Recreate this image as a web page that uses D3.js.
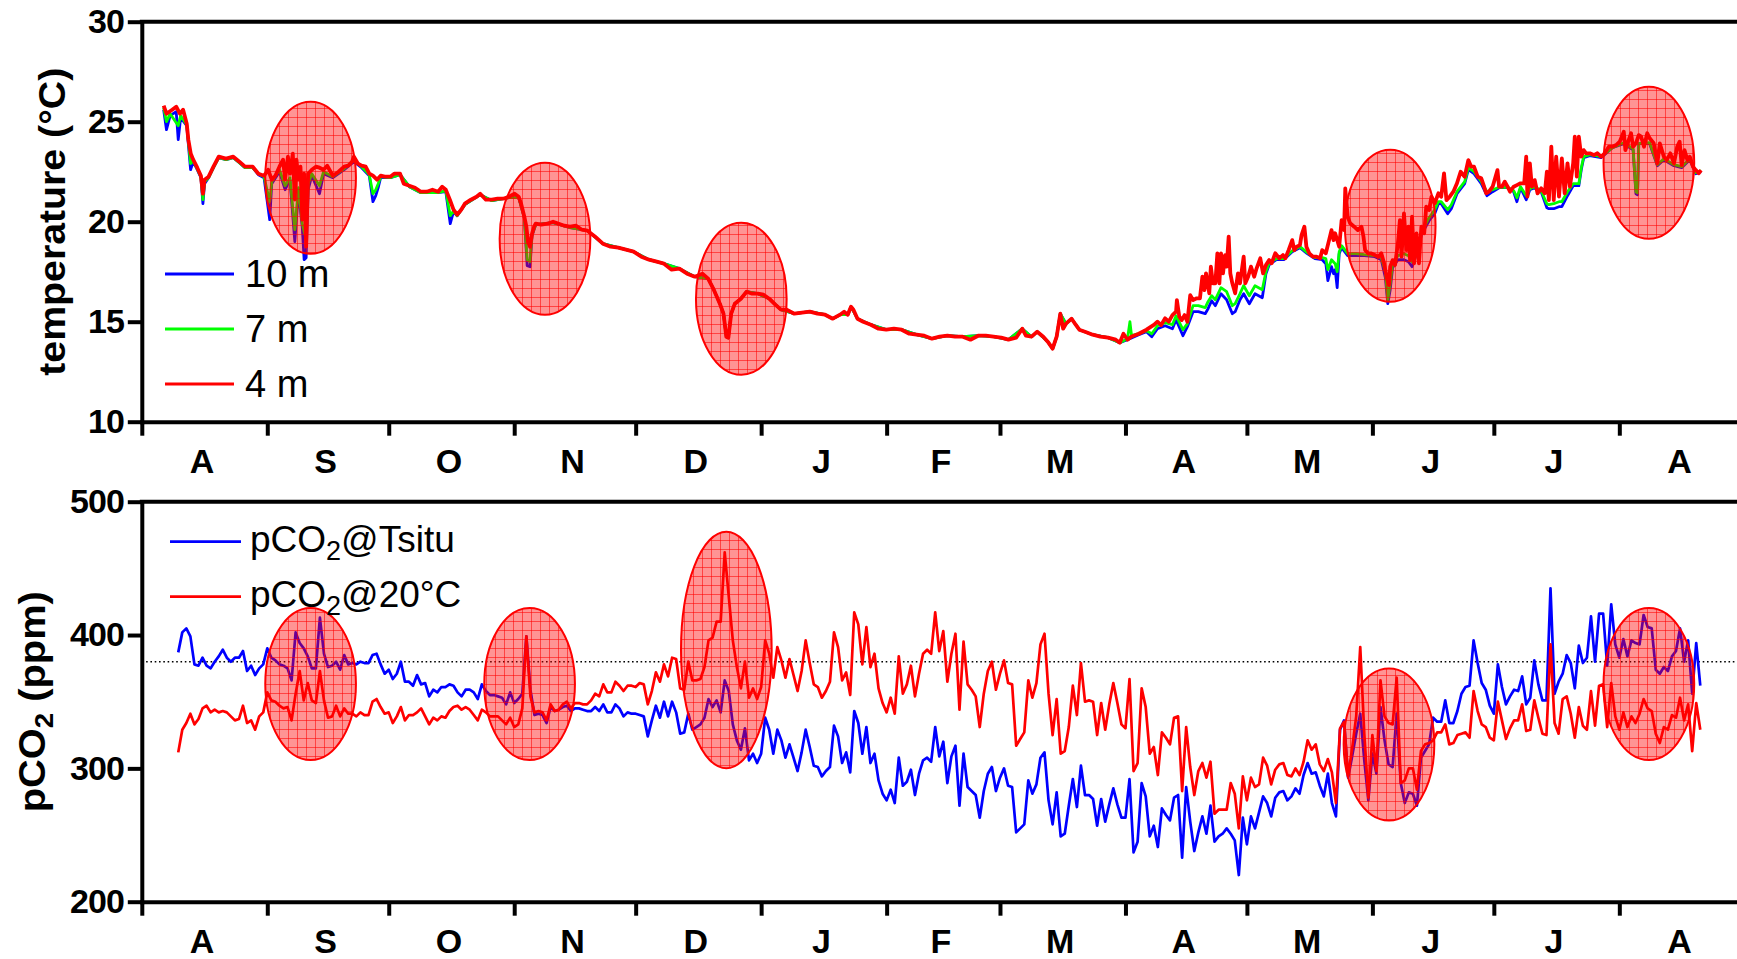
<!DOCTYPE html>
<html>
<head>
<meta charset="utf-8">
<title>Temperature and pCO2 record</title>
<script src="https://cdn.jsdelivr.net/npm/d3@7/dist/d3.min.js"></script>
<style>
  html, body { margin: 0; padding: 0; background: #fff; }
  svg { display: block; }
  text { font-family: "Liberation Sans", Arial, Helvetica, sans-serif; fill: #000; }
</style>
</head>
<body>
<svg id="chart" width="1737" height="959"></svg>
<script>
// ---------------- data ----------------
const monthLabels = ["A", "S", "O", "N", "D", "J", "F", "M", "A", "M", "J", "J", "A"];
const tempTicks = [10, 15, 20, 25, 30];
const pco2Ticks = [200, 300, 400, 500];
const pco2Reference = 380;            // dotted reference level (ppm)
const depthLabels = ["10 m", "7 m", "4 m"];

// Temperature records: [days since 1 Aug 2012, °C]
const temp10m = [
  [5.4,25.6],[6.1,24.6],[7.0,25.3],[8.5,25.5],[9.0,24.1],[9.6,25.2],[11.1,24.8],[12.05,22.6],[12.7,23.0],[13.7,22.6],
  [14.6,22.2],[15.1,20.9],[15.5,21.9],[16.5,22.2],[17.7,22.7],[19.0,23.2],[20.8,23.1],[22.6,23.2],[24.1,22.95],[25.5,22.7],
  [27.4,22.7],[28.8,22.35],[30.2,22.2],[31.6,20.1],[32.1,21.9],[34.0,22.5],[35.4,21.6],[36.6,22.1],[37.8,19.0],[38.7,21.5],
  [39.65,19.7],[40.1,18.1],[40.6,18.2],[41.1,21.6],[42.0,22.3],[43.9,21.4],[44.9,22.4],[47.2,22.2],[50.0,22.6],[52.4,23.0],
  [54.3,22.7],[56.2,22.3],[57.1,21.0],[57.8,21.3],[58.4,21.7],[59.0,22.2],[61.4,22.2],[63.8,22.35],[66.1,21.75],[68.95,21.45],
  [73.2,21.45],[75.1,21.5],[76.2,19.9],[77.0,20.5],[77.9,20.3],[79.8,20.85],[83.6,21.35],[86.5,21.05],[90.7,21.2],[93.1,21.2],
  [94.5,20.2],[95.2,17.8],[95.9,17.75],[96.4,19.3],[97.3,19.85],[101.6,19.95],[105.8,19.7],[110.1,19.55],[113.9,18.9],[117.7,18.7],
  [121.5,18.5],[125.3,18.1],[129.0,17.9],[132.8,17.65],[136.6,17.25],[139.9,17.15],[141.3,16.6],[142.8,15.9],[143.7,15.4],[144.4,14.25],
  [144.9,14.2],[145.6,15.4],[146.5,15.9],[148.0,16.15],[149.4,16.5],[152.2,16.4],[155.0,16.15],[157.9,15.6],[161.2,15.4],[165.0,15.5],
  [168.8,15.35],[170.7,15.15],[172.5,15.35],[174.4,15.35],[175.2,15.75],[176.8,15.15],[180.1,14.85],[183.9,14.6],[187.7,14.6],[191.4,14.35],
  [195.2,14.15],[199.0,14.3],[202.8,14.25],[206.6,14.3],[210.4,14.25],[214.1,14.1],[217.5,14.65],[219.8,14.25],[221.2,14.5],[223.8,14.0],
  [225.0,13.65],[226.0,14.25],[226.9,15.4],[228.3,14.9],[229.7,15.15],[231.6,14.6],[234.9,14.35],[238.7,14.2],[241.6,13.95],[243.5,14.1],
  [246.3,14.35],[248.2,14.5],[249.5,14.25],[250.9,14.65],[252.8,14.8],[254.6,14.65],[255.5,15.1],[257.2,14.3],[258.3,14.75],[259.7,15.5],
  [261.0,15.5],[262.7,15.4],[263.4,15.65],[264.3,16.05],[265.2,15.8],[266.6,16.4],[268.0,16.1],[269.4,15.4],[270.1,15.5],[271.3,16.1],
  [272.2,16.4],[273.6,15.9],[275.0,16.4],[276.8,16.2],[277.7,17.4],[278.5,17.85],[280.3,18.1],[282.1,18.1],[284.2,18.5],[286.1,18.7],
  [287.9,18.4],[289.8,18.15],[291.6,18.1],[292.5,17.9],[293.0,17.05],[293.9,17.75],[294.4,17.4],[294.8,17.6],[295.3,16.7],[295.8,18.4],
  [296.4,18.7],[297.9,18.3],[300.0,18.3],[302.0,18.3],[304.6,18.25],[306.2,18.1],[307.2,17.2],[307.8,15.9],[308.4,16.6],[309.0,17.7],
  [310.3,18.1],[311.8,18.1],[312.9,18.0],[313.8,17.75],[314.9,18.4],[316.2,19.4],[318.0,20.05],[319.4,20.4],[320.3,20.9],[321.0,20.9],
  [322.6,20.4],[323.5,20.65],[324.9,21.4],[326.8,21.9],[327.7,22.6],[329.1,22.4],[330.9,21.9],[332.3,21.3],[333.7,21.5],[335.3,21.7],
  [337.4,21.7],[338.9,21.5],[339.7,21.0],[340.6,21.7],[342.0,21.1],[342.9,21.6],[344.1,21.7],[345.7,21.5],[347.1,20.7],[347.6,20.65],
  [348.8,20.65],[350.1,20.75],[350.8,20.75],[352.2,21.3],[353.6,21.8],[355.0,21.8],[355.6,22.6],[356.2,23.2],[357.7,23.3],[360.5,23.2],
  [363.3,23.7],[366.1,23.9],[368.4,23.6],[369.1,21.4],[369.5,21.35],[369.8,23.9],[372.5,23.9],[374.4,22.8],[376.0,23.1],[378.5,22.8],
  [380.4,22.7],[382.4,23.1],[383.9,22.4],[385.2,22.5]
];

const temp7m = [
  [5.4,25.7],[6.1,25.0],[7.0,25.4],[9.0,24.8],[9.6,25.3],[11.1,24.85],[12.05,22.9],[12.7,23.05],[14.6,22.25],[15.1,21.1],
  [15.5,22.0],[16.5,22.2],[17.7,22.7],[19.0,23.2],[20.8,23.1],[22.6,23.2],[24.1,22.95],[25.5,22.7],[27.4,22.7],[28.8,22.4],
  [30.2,22.25],[31.6,21.0],[32.1,22.0],[34.0,22.6],[35.4,21.8],[36.6,22.2],[37.8,19.6],[38.7,21.7],[39.65,19.9],[40.1,19.5],
  [40.6,19.2],[41.1,21.9],[42.0,22.4],[43.9,21.8],[44.9,22.5],[47.2,22.25],[50.0,22.65],[52.4,23.1],[54.3,22.75],[56.2,22.35],
  [57.1,21.4],[57.8,21.6],[58.4,21.9],[59.0,22.25],[61.4,22.2],[63.8,22.35],[66.1,21.75],[68.95,21.45],[73.2,21.45],[75.1,21.55],
  [76.2,20.3],[77.0,20.55],[77.9,20.3],[79.8,20.85],[83.6,21.35],[86.5,21.05],[90.7,21.2],[93.1,21.2],[94.5,20.2],[95.2,18.1],
  [95.9,18.0],[96.4,19.35],[97.3,19.85],[101.6,19.95],[105.8,19.7],[110.1,19.55],[113.9,18.9],[117.7,18.7],[121.5,18.5],[125.3,18.1],
  [129.0,17.9],[132.8,17.65],[136.6,17.25],[139.9,17.15],[141.3,16.6],[142.8,15.9],[143.7,15.4],[144.4,14.25],[144.9,14.2],[145.6,15.4],
  [146.5,15.9],[148.0,16.15],[149.4,16.5],[152.2,16.4],[155.0,16.15],[157.9,15.6],[161.2,15.4],[165.0,15.5],[168.8,15.35],[170.7,15.15],
  [172.5,15.35],[174.4,15.35],[175.2,15.75],[176.8,15.15],[180.1,14.85],[183.9,14.6],[187.7,14.6],[191.4,14.35],[195.2,14.15],[199.0,14.3],
  [202.8,14.25],[206.6,14.3],[210.4,14.25],[214.1,14.1],[217.5,14.65],[219.8,14.25],[221.2,14.5],[223.8,14.0],[225.0,13.65],[226.0,14.25],
  [226.9,15.4],[228.3,14.9],[229.7,15.15],[231.6,14.6],[234.9,14.35],[238.7,14.2],[241.6,13.95],[243.5,14.15],[244.1,15.0],[244.5,14.3],
  [246.3,14.4],[248.2,14.55],[249.5,14.4],[250.9,14.8],[252.8,14.95],[254.6,14.85],[255.5,15.3],[257.2,14.6],[258.3,14.9],[259.7,15.8],
  [261.0,15.8],[262.7,15.7],[263.4,16.0],[264.3,16.3],[265.2,16.1],[266.6,16.7],[268.0,16.5],[269.4,15.8],[270.1,15.9],[271.3,16.4],
  [272.2,16.8],[273.6,16.3],[275.0,16.8],[276.8,16.6],[277.7,17.5],[278.5,17.95],[280.3,18.15],[282.1,18.15],[284.2,18.55],[286.1,18.75],
  [287.9,18.45],[289.8,18.2],[291.6,18.2],[292.5,18.15],[293.0,17.6],[293.9,18.1],[294.8,17.9],[295.3,17.5],[295.8,18.5],[296.4,18.8],
  [297.9,18.4],[300.0,18.4],[302.0,18.35],[304.6,18.3],[306.2,18.2],[307.2,17.5],[307.8,16.1],[308.4,16.9],[309.0,17.9],[310.3,18.3],
  [311.8,18.4],[312.9,18.3],[313.8,18.0],[314.9,18.6],[316.2,19.5],[318.0,20.2],[319.4,20.6],[320.3,21.0],[321.0,21.0],[322.6,20.6],
  [323.5,20.85],[324.9,21.5],[326.8,22.0],[327.7,22.7],[329.1,22.5],[330.9,22.0],[332.3,21.5],[333.7,21.6],[335.3,21.72],[337.4,21.72],
  [338.9,21.55],[339.7,21.2],[340.6,21.75],[342.0,21.3],[342.9,21.65],[344.1,21.75],[345.7,21.55],[347.1,20.9],[347.6,20.85],[348.8,20.9],
  [350.1,21.0],[350.8,21.0],[352.2,21.5],[353.6,21.9],[355.0,21.9],[355.6,22.7],[356.2,23.25],[357.7,23.35],[360.5,23.25],[363.3,23.7],
  [366.1,23.95],[368.4,23.65],[369.1,21.5],[369.5,21.45],[369.8,23.9],[372.5,23.95],[374.4,22.85],[376.0,23.15],[378.5,22.85],[380.4,22.75],
  [382.4,23.15],[383.9,22.45],[385.2,22.55]
];

const temp4m = [
  [5.4,25.8],[6.1,25.4],[7.5,25.6],[8.5,25.75],[9.4,25.4],[10.2,25.6],[11.1,24.9],[11.5,24.1],[12.1,23.4],[12.7,23.1],
  [13.7,22.7],[14.6,22.3],[15.1,21.4],[15.5,22.1],[16.5,22.25],[17.7,22.75],[19.0,23.25],[20.8,23.15],[22.6,23.25],[24.1,23.0],
  [25.5,22.75],[27.4,22.75],[28.8,22.4],[30.2,22.3],[31.2,22.6],[32.1,22.1],[33.0,22.3],[34.0,22.75],[34.9,23.1],[35.4,22.1],
  [36.1,23.25],[36.6,22.4],[37.3,23.4],[37.8,21.1],[38.2,23.1],[38.7,22.1],[39.2,22.75],[39.65,20.1],[40.1,22.4],[40.6,18.75],
  [41.1,22.4],[42.0,22.6],[43.0,22.75],[43.9,22.7],[44.9,22.6],[45.8,22.8],[47.2,22.3],[48.6,22.5],[50.0,22.75],[51.0,22.8],
  [51.95,23.0],[52.4,23.25],[53.4,22.9],[54.3,22.8],[55.3,22.75],[56.2,22.4],[57.1,22.3],[58.1,22.1],[59.0,22.3],[60.0,22.25],
  [61.4,22.25],[62.35,22.4],[63.8,22.4],[64.7,21.9],[66.1,21.8],[67.5,21.7],[68.95,21.5],[70.4,21.5],[71.8,21.6],[73.2,21.5],
  [74.2,21.75],[75.1,21.6],[76.1,21.1],[77.0,20.6],[77.9,20.35],[78.9,20.6],[79.8,20.9],[81.3,21.1],[82.7,21.25],[83.6,21.4],
  [85.0,21.1],[86.5,21.1],[87.9,21.15],[89.3,21.15],[90.7,21.25],[92.1,21.4],[93.1,21.25],[93.7,20.9],[94.5,20.25],[95.0,19.75],
  [95.4,19.0],[95.9,18.75],[96.4,19.4],[96.9,19.75],[97.3,19.9],[98.7,19.85],[100.2,19.9],[101.6,20.0],[103.0,19.9],[104.4,19.8],
  [105.8,19.75],[107.3,19.8],[108.7,19.6],[110.1,19.55],[112.0,19.25],[113.9,18.9],[115.8,18.75],[117.7,18.7],[119.6,18.6],[121.5,18.5],
  [123.4,18.25],[125.3,18.1],[127.2,18.0],[129.0,17.9],[130.9,17.6],[132.8,17.65],[134.7,17.4],[136.6,17.25],[138.5,17.4],[139.9,17.15],
  [141.3,16.6],[142.8,15.9],[143.7,15.4],[144.4,14.25],[144.9,14.2],[145.6,15.4],[146.5,15.9],[148.0,16.15],[149.4,16.5],[150.8,16.4],
  [152.2,16.4],[153.6,16.35],[155.0,16.15],[156.5,15.85],[157.9,15.6],[159.3,15.6],[161.2,15.4],[163.1,15.45],[165.0,15.5],[166.9,15.4],
  [168.8,15.35],[170.7,15.15],[172.5,15.35],[173.5,15.5],[174.4,15.35],[175.2,15.75],[175.8,15.6],[176.8,15.15],[178.2,15.0],[180.1,14.85],
  [182.0,14.65],[183.9,14.6],[185.8,14.65],[187.7,14.6],[189.6,14.4],[191.4,14.35],[193.3,14.3],[195.2,14.15],[197.1,14.25],[199.0,14.3],
  [200.9,14.25],[202.8,14.25],[204.7,14.1],[206.6,14.3],[208.5,14.3],[210.4,14.25],[212.3,14.2],[214.1,14.1],[216.0,14.2],[217.5,14.65],
  [218.4,14.3],[219.8,14.25],[221.2,14.5],[222.7,14.25],[223.8,14.0],[225.0,13.65],[226.0,14.25],[226.9,15.4],[227.6,14.65],[228.3,14.9],
  [229.7,15.15],[230.7,14.85],[231.6,14.6],[233.0,14.5],[234.9,14.35],[236.8,14.25],[238.7,14.2],[240.6,14.1],[241.6,13.95],[242.5,14.4],
  [243.5,14.1],[244.4,14.25],[246.3,14.4],[248.2,14.6],[250.1,14.85],[250.9,15.0],[251.8,14.83],[252.8,15.17],[253.7,15.0],[254.6,15.33],
  [255.5,15.5],[255.7,16.08],[256.3,15.25],[256.9,15.08],[257.6,15.33],[258.3,15.0],[259.0,16.33],[259.7,16.08],[260.6,16.17],[261.4,16.17],
  [262.0,17.25],[262.5,16.58],[262.9,17.42],[263.7,16.42],[264.1,17.75],[264.6,16.92],[265.2,16.92],[265.7,18.42],[266.2,16.92],[266.6,18.42],
  [267.1,17.42],[267.6,18.33],[268.0,17.75],[268.5,19.25],[268.9,17.42],[269.4,16.92],[270.1,16.42],[270.8,17.42],[271.3,16.92],[272.2,18.25],
  [272.6,16.92],[273.3,17.25],[274.0,17.75],[274.8,17.25],[275.4,17.67],[276.3,18.17],[277.0,17.42],[277.7,17.83],[278.5,18.08],[279.1,17.92],
  [280.0,18.42],[281.0,18.17],[281.9,18.33],[282.5,18.17],[283.3,18.58],[284.2,19.08],[284.7,18.58],[285.3,18.75],[286.1,18.83],[286.5,19.33],
  [287.2,19.75],[287.7,18.75],[288.4,18.42],[289.3,18.25],[290.2,18.25],[291.1,18.17],[291.6,18.58],[292.5,18.42],[293.3,19.08],[293.9,19.58],
  [294.4,19.08],[294.8,19.42],[295.8,18.75],[296.4,20.08],[297.0,19.58],[297.3,21.67],[297.9,20.25],[298.5,19.92],[299.5,19.75],[300.4,19.58],
  [301.3,19.75],[301.8,19.25],[302.2,18.58],[302.9,18.42],[303.6,18.42],[304.6,18.33],[305.5,18.25],[306.2,18.42],[306.9,17.92],[307.5,17.25],
  [308.1,16.83],[308.4,17.75],[309.0,18.08],[309.6,17.83],[310.3,18.92],[310.8,20.08],[311.2,18.25],[311.8,20.42],[312.4,18.58],[312.9,19.75],
  [313.3,18.08],[313.8,20.25],[314.3,17.92],[314.9,19.42],[315.5,17.92],[316.1,19.75],[316.8,19.42],[317.3,20.75],[318.0,20.58],[318.6,21.25],
  [319.4,20.92],[320.3,21.42],[321.0,21.25],[321.7,22.42],[322.3,21.08],[323.1,21.25],[324.0,21.5],[324.9,21.92],[325.8,22.5],[326.8,22.25],
  [327.7,23.08],[328.4,22.75],[329.1,22.75],[330.0,22.25],[330.9,22.17],[331.6,21.75],[332.1,21.42],[332.8,21.5],[333.7,21.75],[334.9,22.58],
  [335.3,21.75],[336.0,21.75],[336.7,22.0],[337.4,21.75],[338.0,21.5],[338.9,21.75],[339.7,21.83],[340.6,21.92],[341.5,21.92],[342.0,23.25],
  [342.3,21.25],[342.9,22.92],[343.4,21.75],[344.1,22.08],[344.8,21.42],[345.7,21.67],[346.6,21.42],[347.1,22.5],[347.6,21.08],[348.2,23.75],
  [348.8,21.08],[349.4,23.25],[350.1,21.25],[350.8,23.17],[351.5,21.42],[352.2,22.92],[352.8,21.75],[353.6,22.92],[354.0,24.25],[354.5,22.25],
  [355.0,24.25],[355.6,23.25],[356.2,23.58],[356.8,23.42],[357.7,23.42],[358.7,23.33],[359.6,23.42],[360.5,23.25],[361.4,23.42],[362.4,23.75],
  [363.3,23.75],[364.2,23.83],[365.1,24.0],[366.1,24.5],[366.5,23.58],[367.3,24.08],[367.9,24.42],[368.4,23.75],[369.1,23.92],[369.8,24.33],
  [370.4,24.25],[371.1,23.75],[371.9,24.42],[372.5,24.17],[373.5,23.92],[374.4,22.92],[375.0,23.92],[376.0,23.25],[376.7,23.08],[377.6,23.42],
  [378.5,22.92],[379.3,23.75],[379.9,24.0],[380.4,22.83],[381.1,23.58],[381.8,23.08],[382.4,23.25],[383.2,22.75],[383.9,22.58],[384.6,22.42],
  [385.2,22.58]
];

// Daily pCO2 (ppm), one value per day starting 10 Aug 2012 (day 9)
const pco2FirstDay = 9;
const pco2Tsitu = [
  387,402,405,399,378,377,383,377,375,380, 384,389,383,380,383,383,388,373,377,370,
  375,378,390,383,381,378,377,375,366,402, 394,390,384,375,375,413,386,376,377,380,
  374,385,378,379,378,380,379,379,385,386, 378,371,374,367,371,380,365,365,362,370,
  363,364,354,359,357,361,361,363,362,357, 354,359,359,357,352,363,358,355,355,354,
  353,348,357,349,352,356,399,359,340,341, 340,334,346,343,344,346,347,343,345,345,
  344,343,343,346,343,348,342,342,348,345, 339,342,341,341,340,339,324,336,347,338,
  350,339,350,342,326,327,341,329,331,333, 338,352,346,351,342,366,358,333,321,314,
  330,306,311,304,311,338,329,311,329,321, 308,318,308,298,312,329,316,302,301,294,
  298,301,332,324,304,312,297,343,334,311, 331,304,311,291,281,276,284,274,308,287,
  290,299,280,296,306,308,305,331,309,320, 289,309,317,272,311,286,283,280,263,283,
  296,301,283,293,300,287,286,252,255,258, 291,281,288,308,312,276,258,282,249,251,
  272,292,271,302,280,280,277,257,277,260, 273,285,273,263,263,292,237,245,289,279,
  249,257,241,270,265,261,278,280,233,286, 260,238,252,264,251,272,245,249,251,255,
  251,246,220,263,243,264,255,267,279,274, 264,278,282,283,276,279,285,281,295,304,
  296,297,287,279,296,274,264,329,336,293, 309,326,341,306,276,311,296,346,321,303,
  301,341,289,274,282,281,272,308,313,318, 338,335,335,351,334,334,343,356,361,362,
  396,379,364,359,347,341,378,361,348,354, 359,358,369,348,353,381,363,351,351,435,
  356,365,371,385,379,360,392,379,383,414, 380,416,416,377,423,393,383,397,384,396,
  394,393,415,406,405,374,371,376,373,384, 388,405,380,396,356,394,362
];
const pco2At20 = [
  312,329,334,341,333,337,345,347,342,344, 342,343,342,339,336,337,347,334,336,329,
  339,342,357,351,350,347,345,346,336,356, 373,351,364,351,349,373,351,338,339,347,
  339,345,341,341,339,342,340,340,350,352, 346,341,342,334,339,346,336,340,340,342,
  345,339,333,338,336,339,338,343,346,347, 344,346,344,340,336,344,342,339,339,339,
  336,333,338,331,333,345,399,354,342,343, 342,336,348,343,344,348,350,345,349,349,
  348,348,351,356,354,363,357,357,365,362, 358,362,362,361,364,363,348,358,372,365,
  378,369,383,382,360,359,380,366,366,367, 376,396,398,410,410,462,429,396,376,360,
  380,353,360,352,361,396,386,368,391,381, 368,382,370,358,373,396,379,363,361,353,
  358,365,402,391,366,372,355,417,408,378, 406,376,386,360,349,342,353,341,384,356,
  363,377,354,371,386,389,386,417,388,403, 365,386,401,344,395,363,359,354,331,356,
  373,380,359,371,381,364,363,317,322,327, 366,353,364,393,401,356,325,352,311,313,
  331,362,340,379,350,351,350,325,349,329, 348,364,349,333,330,367,298,304,360,346,
  311,316,295,327,323,318,338,339,283,331, 301,280,298,304,293,305,266,269,269,269,
  289,281,255,294,276,293,286,288,308,302, 288,299,303,304,295,294,300,295,305,321,
  314,318,303,298,307,297,274,330,335,294, 315,339,391,326,278,325,298,366,339,334,
  333,368,289,291,300,300,284,313,318,319, 321,327,327,333,318,319,325,326,327,323,
  358,343,333,331,323,321,350,336,322,330, 336,336,348,328,329,351,338,326,325,393,
  334,326,352,354,341,323,346,332,329,358, 332,362,363,331,364,339,329,342,331,339,
  334,341,352,345,343,326,319,331,329,340, 338,353,336,348,313,349,329
];

// Highlighted events (centre day, centre value, half extent in value units)
const eventDays = [41.7, 99.6, 148.1, 308.4, 372.3];
const eventTemp = [22.2, 19.15, 16.15, 19.8, 22.95];
const eventTempHalf = [3.8, 3.8, 3.8, 3.8, 3.8];
const eventDaysCO2 = [41.7, 95.8, 144.4, 308.1, 372.3];
const eventCO2 = [363.3, 363.3, 388.8, 317.9, 363.3];
const eventCO2Half = [57, 57, 88.7, 57, 57];
const eventHalfDays = 11.2;

// ---------------- layout ----------------
const W = 1737, H = 959;
const left = 141.8;
const topPanel = { y0: 21.7, y1: 421.7 };
const botPanel = { y0: 501.7, y1: 901.7 };
const FONT = '"Liberation Sans", Arial, Helvetica, sans-serif';

const t0 = Date.UTC(2012, 7, 1);
const dayToDate = d => new Date(t0 + d * 864e5);

const x = d3.scaleUtc()
  .domain([new Date(Date.UTC(2012, 7, 1)), new Date(Date.UTC(2013, 8, 1))])
  .range([left, left + 396 * 4.048]);
const yT = d3.scaleLinear().domain([10, 30]).range([topPanel.y1, topPanel.y0]);
const yP = d3.scaleLinear().domain([200, 500]).range([botPanel.y1, botPanel.y0]);

const svg = d3.select("#chart");

// hatched red overlay used for the highlighted events
const defs = svg.append("defs");
const pat = defs.append("pattern")
  .attr("id", "hatch").attr("patternUnits", "userSpaceOnUse")
  .attr("width", 9).attr("height", 9);
pat.append("rect").attr("width", 9).attr("height", 9).attr("fill", "rgba(255,0,0,0.42)");
pat.append("path").attr("d", "M0,0.5H9M0.5,0V9")
  .attr("stroke", "rgba(255,0,0,0.55)").attr("stroke-width", 1).attr("fill", "none");

const monthStarts = d3.utcMonth.range(new Date(Date.UTC(2012, 7, 1)), new Date(Date.UTC(2013, 8, 2)));

function drawFrame(y, panel, ticks) {
  // top border
  svg.append("line")
    .attr("x1", left).attr("x2", W + 10)
    .attr("y1", panel.y0).attr("y2", panel.y0)
    .attr("stroke", "#000").attr("stroke-width", 4).attr("stroke-linecap", "square");

  const ga = svg.append("g")
    .attr("transform", `translate(${left},0)`)
    .call(d3.axisLeft(y).tickValues(ticks).tickSize(14).tickSizeOuter(0).tickPadding(4));
  ga.attr("font-family", null).attr("font-size", null);
  ga.select(".domain").attr("stroke-width", 4).attr("stroke-linecap", "square");
  ga.selectAll(".tick line").attr("stroke-width", 4);
  ga.selectAll(".tick text")
    .style("font-family", FONT).style("font-size", "34px").style("font-weight", "bold")
    .style("letter-spacing", "-1px");

  const gx = svg.append("g")
    .attr("transform", `translate(0,${panel.y1})`)
    .call(d3.axisBottom(x).tickValues(monthStarts).tickSize(14).tickSizeOuter(0).tickFormat(""));
  gx.select(".domain").attr("stroke-width", 4).attr("stroke-linecap", "square");
  gx.selectAll(".tick line").attr("stroke-width", 4);

  // month initials centred in each month
  svg.append("g").selectAll("text")
    .data(monthLabels)
    .join("text")
    .attr("x", (d, i) => (x(monthStarts[i]) + x(monthStarts[i + 1])) / 2 - 2.5)
    .attr("y", panel.y1 + 51.6)
    .attr("text-anchor", "middle")
    .style("font-size", "34px").style("font-weight", "bold")
    .text(d => d);
}

drawFrame(yT, topPanel, tempTicks);
drawFrame(yP, botPanel, pco2Ticks);

// axis titles
svg.append("text")
  .attr("transform", `translate(65,${(topPanel.y0 + topPanel.y1) / 2}) rotate(-90)`)
  .attr("text-anchor", "middle")
  .attr("textLength", 308).attr("lengthAdjust", "spacingAndGlyphs")
  .style("font-size", "36px").style("font-weight", "bold")
  .text("temperature (°C)");

const tP = svg.append("text")
  .attr("transform", `translate(44.5,${(botPanel.y0 + botPanel.y1) / 2}) rotate(-90)`)
  .attr("text-anchor", "middle")
  .attr("textLength", 221).attr("lengthAdjust", "spacingAndGlyphs")
  .style("font-size", "36px").style("font-weight", "bold");
tP.append("tspan").text("pCO");
tP.append("tspan").attr("dy", 8).style("font-size", "25px").text("2");
tP.append("tspan").attr("dy", -8).text(" (ppm)");

// ---------------- temperature panel ----------------
const lineT = d3.line()
  .x(d => x(dayToDate(d[0])))
  .y(d => yT(d[1]));

const tempSeries = [
  { data: temp10m, color: "#0000ff", width: 2.8 },
  { data: temp7m, color: "#00ff00", width: 2.8 },
  { data: temp4m, color: "#ff0000", width: 3.8 }
];
svg.append("g").selectAll("path")
  .data(tempSeries)
  .join("path")
  .attr("d", s => lineT(s.data))
  .attr("fill", "none")
  .attr("stroke", s => s.color)
  .attr("stroke-width", s => s.width)
  .attr("stroke-linejoin", "round");

svg.append("g").selectAll("ellipse")
  .data(eventDays)
  .join("ellipse")
  .attr("cx", d => x(dayToDate(d)))
  .attr("cy", (d, i) => yT(eventTemp[i]))
  .attr("rx", d => x(dayToDate(d + eventHalfDays)) - x(dayToDate(d)))
  .attr("ry", (d, i) => yT(eventTemp[i] - eventTempHalf[i]) - yT(eventTemp[i]))
  .attr("fill", "url(#hatch)")
  .attr("stroke", "#ff0000").attr("stroke-width", 2);

// legend (temperature)
const legT = svg.append("g");
tempSeries.forEach((s, i) => {
  const yy = 274 + i * 55;
  legT.append("line").attr("x1", 165).attr("x2", 234).attr("y1", yy).attr("y2", yy)
    .attr("stroke", s.color).attr("stroke-width", 3);
  legT.append("text").attr("x", 245).attr("y", yy + 13.3)
    .style("font-size", "38px").text(depthLabels[i]);
});

// ---------------- pCO2 panel ----------------
const lineP = d3.line()
  .x((d, i) => x(dayToDate(pco2FirstDay + i)))
  .y(d => yP(d));

svg.append("line")
  .attr("x1", left).attr("x2", W + 10)
  .attr("y1", yP(pco2Reference)).attr("y2", yP(pco2Reference))
  .attr("stroke", "#000").attr("stroke-width", 1.6)
  .attr("stroke-dasharray", "1.6 2.7");

const co2Series = [
  { data: pco2Tsitu, color: "#0000ff", label: "@Tsitu" },
  { data: pco2At20, color: "#ff0000", label: "@20°C" }
];
svg.append("g").selectAll("path")
  .data(co2Series)
  .join("path")
  .attr("d", s => lineP(s.data))
  .attr("fill", "none")
  .attr("stroke", s => s.color)
  .attr("stroke-width", 2.7)
  .attr("stroke-linejoin", "round");

svg.append("g").selectAll("ellipse")
  .data(eventDaysCO2)
  .join("ellipse")
  .attr("cx", d => x(dayToDate(d)))
  .attr("cy", (d, i) => yP(eventCO2[i]))
  .attr("rx", d => x(dayToDate(d + eventHalfDays)) - x(dayToDate(d)))
  .attr("ry", (d, i) => yP(eventCO2[i] - eventCO2Half[i]) - yP(eventCO2[i]))
  .attr("fill", "url(#hatch)")
  .attr("stroke", "#ff0000").attr("stroke-width", 2);

// legend (pCO2)
const legP = svg.append("g");
co2Series.forEach((s, i) => {
  const yy = 541.7 + i * 55;
  legP.append("line").attr("x1", 170).attr("x2", 241).attr("y1", yy).attr("y2", yy)
    .attr("stroke", s.color).attr("stroke-width", 2.7);
  const t = legP.append("text").attr("x", 250).attr("y", yy + 10).style("font-size", "37px");
  t.append("tspan").text("pCO");
  t.append("tspan").attr("dy", 8.5).style("font-size", "27px").text("2");
  t.append("tspan").attr("dy", -8.5).text(s.label);
});
</script>
</body>
</html>
